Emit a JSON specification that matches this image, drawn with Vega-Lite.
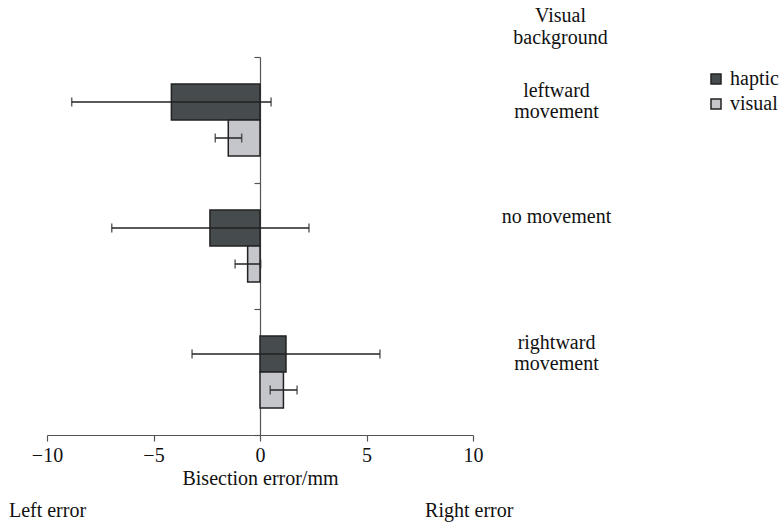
{
  "$schema": "https://vega.github.io/schema/vega-lite/v6.json",
  "width": 426,
  "height": 378,
  "autosize": "none",
  "padding": {"left": 47, "top": 57, "right": 309, "bottom": 87},
  "background": "white",
  "config": {
    "font": "Liberation Serif",
    "view": {"stroke": null},
    "axis": {
      "labelFont": "Liberation Serif",
      "titleFont": "Liberation Serif",
      "labelFontSize": 20,
      "titleFontSize": 20,
      "labelColor": "#111",
      "titleColor": "#111",
      "titleFontWeight": "normal",
      "domainColor": "#555",
      "tickColor": "#555",
      "domainWidth": 1.2,
      "tickWidth": 1.2,
      "grid": false
    },
    "legend": {
      "labelFont": "Liberation Serif",
      "labelFontSize": 20,
      "labelColor": "#111"
    }
  },
  "data": {
    "values": [
      {"bg": "leftward movement", "modality": "haptic", "mean": -4.16, "lo": -8.84, "hi": 0.52},
      {"bg": "leftward movement", "modality": "visual", "mean": -1.49, "lo": -2.10, "hi": -0.86},
      {"bg": "no movement", "modality": "haptic", "mean": -2.35, "lo": -6.96, "hi": 2.30},
      {"bg": "no movement", "modality": "visual", "mean": -0.58, "lo": -1.17, "hi": 0.03},
      {"bg": "rightward movement", "modality": "haptic", "mean": 1.22, "lo": -3.19, "hi": 5.63},
      {"bg": "rightward movement", "modality": "visual", "mean": 1.10, "lo": 0.48, "hi": 1.74}
    ]
  },
  "layer": [
    {
      "mark": {"type": "bar", "stroke": "#222", "strokeWidth": 1.5},
      "encoding": {
        "y": {
          "field": "bg", "type": "nominal",
          "sort": ["leftward movement", "no movement", "rightward movement"],
          "scale": {"paddingInner": 0, "paddingOuter": 0},
          "axis": {"orient": "left", "offset": -213, "labels": false, "title": null, "tickBand": "extent", "tickSize": 6}
        },
        "yOffset": {
          "field": "modality", "type": "nominal", "sort": ["haptic", "visual"],
          "scale": {"paddingInner": 0, "paddingOuter": 0.75}
        },
        "x": {
          "field": "mean", "type": "quantitative",
          "scale": {"domain": [-10, 10], "nice": false, "zero": false},
          "axis": {"values": [-10, -5, 0, 5, 10], "title": "Bisection error/mm", "tickSize": 6, "labelPadding": 4, "titlePadding": 3, "labelFlush": false}
        },
        "color": {
          "field": "modality", "type": "nominal",
          "sort": ["haptic", "visual"],
          "scale": {"domain": ["haptic", "visual"], "range": ["#464c4d", "#c4c6cc"]},
          "legend": {
            "title": null, "orient": "none", "legendX": 659, "legendY": 12,
            "symbolType": "square", "symbolSize": 100, "symbolStrokeColor": "#222", "symbolStrokeWidth": 1.5,
            "rowPadding": 5, "labelOffset": 4, "padding": 0
          }
        }
      }
    },
    {
      "mark": {"type": "rule", "color": "#222", "strokeWidth": 1.5},
      "encoding": {
        "y": {
          "field": "bg", "type": "nominal",
          "sort": ["leftward movement", "no movement", "rightward movement"],
          "axis": {
            "orient": "right", "domain": false, "ticks": false, "tickSize": 0,
            "labelAlign": "center", "labelBaseline": "alphabetic", "labelPadding": 83, "labelOffset": -23,
            "labelLineHeight": 21, "labelBound": false, "labelOverlap": false,
            "labelExpr": "datum.value == 'no movement' ? datum.value : split(datum.value, ' ')",
            "title": ["Visual", "background"], "titleAngle": 0, "titleAlign": "center", "titleBaseline": "alphabetic",
            "titleX": 87, "titleY": -36, "titleLineHeight": 22
          }
        },
        "yOffset": {"field": "modality", "type": "nominal", "sort": ["haptic", "visual"]},
        "x": {
          "field": "lo", "type": "quantitative",
          "axis": {
            "orient": "bottom", "values": [-10, 9.8], "domain": false, "ticks": false, "tickSize": 0,
            "labelAlign": "center", "labelBaseline": "top", "labelPadding": 65, "labelFlush": false, "labelBound": false, "labelOverlap": false,
            "labelExpr": "datum.value < 0 ? 'Left error' : 'Right error'", "title": null
          }
        },
        "x2": {"field": "hi"}
      }
    },
    {
      "mark": {"type": "tick", "color": "#222", "thickness": 1.5, "size": 9},
      "encoding": {
        "y": {"field": "bg", "type": "nominal", "sort": ["leftward movement", "no movement", "rightward movement"], "axis": null},
        "yOffset": {"field": "modality", "type": "nominal", "sort": ["haptic", "visual"]},
        "x": {"field": "lo", "type": "quantitative", "axis": null}
      }
    },
    {
      "mark": {"type": "tick", "color": "#222", "thickness": 1.5, "size": 9},
      "encoding": {
        "y": {"field": "bg", "type": "nominal", "sort": ["leftward movement", "no movement", "rightward movement"], "axis": null},
        "yOffset": {"field": "modality", "type": "nominal", "sort": ["haptic", "visual"]},
        "x": {"field": "hi", "type": "quantitative", "axis": null}
      }
    }
  ],
  "resolve": {"axis": {"y": "independent", "x": "independent"}}
}
